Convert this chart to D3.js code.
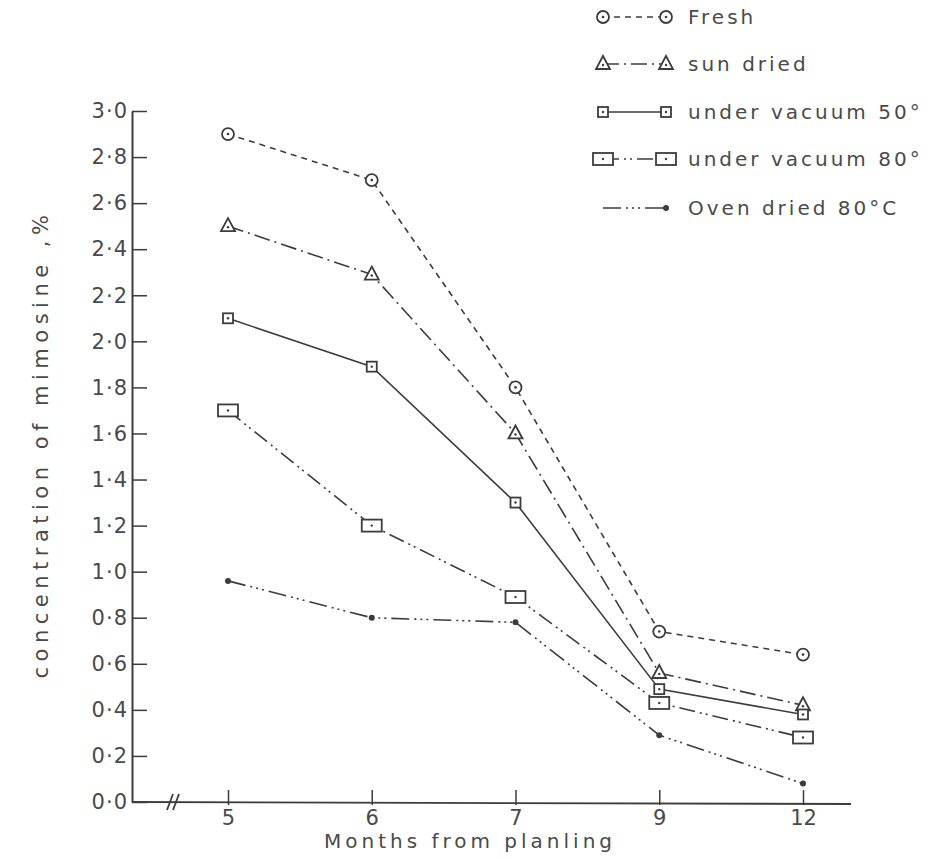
<!DOCTYPE html>
<html>
<head>
<meta charset="utf-8">
<script src="https://cdn.jsdelivr.net/npm/d3@7"></script>
<style>
  body { margin: 0; background: #fff; }
  text { font-family: "DejaVu Sans", sans-serif; fill: #4a4a4a; }
</style>
</head>
<body>
<div id="chart"></div>
<script>
// Months from planting (categories, equally spaced on the axis)
const months = ["5", "6", "7", "9", "12"];

// Mimosine concentration, %
const fresh = [2.9, 2.7, 1.8, 0.74, 0.64];
const sunDried = [2.5, 2.29, 1.6, 0.56, 0.42];
const vacuum50 = [2.1, 1.89, 1.3, 0.49, 0.38];
const vacuum80 = [1.7, 1.2, 0.89, 0.43, 0.28];
const ovenDried = [0.96, 0.8, 0.78, 0.29, 0.08];

const yTicks = [0, 0.2, 0.4, 0.6, 0.8, 1.0, 1.2, 1.4, 1.6, 1.8, 2.0, 2.2, 2.4, 2.6, 2.8, 3.0];

const seriesNames = ["Fresh", "sun dried", "under vacuum 50°", "under vacuum 80°", "Oven dried 80°C"];
const seriesValues = [fresh, sunDried, vacuum50, vacuum80, ovenDried];
const seriesDash = ["6,5", "16,5,2,5", null, "16,5,2,4,2,5", "18,5,2,4,2,4,2,5"];
const seriesMarker = ["circle", "triangle", "square", "rect", "dot"];

const ink = "#3c3c3c";

const svg = d3.select("#chart")
    .append("svg")
    .attr("width", 938)
    .attr("height", 861);

const x = d3.scalePoint().domain(months).range([228, 803]);
const y = d3.scaleLinear().domain([0, 3]).range([802, 111]);
const axisX = 132;

// draw a marker shape at (cx, cy)
function drawMarker(g, type, cx, cy) {
    if (type === "circle") {
        g.append("circle").attr("cx", cx).attr("cy", cy).attr("r", 6)
            .attr("fill", "#fff").attr("stroke", ink).attr("stroke-width", 1.8);
        g.append("circle").attr("cx", cx).attr("cy", cy).attr("r", 1.3).attr("fill", ink);
    } else if (type === "triangle") {
        g.append("path")
            .attr("d", `M${cx},${cy - 8} L${cx + 7},${cy + 5} L${cx - 7},${cy + 5} Z`)
            .attr("fill", "#fff").attr("stroke", ink).attr("stroke-width", 1.8);
        g.append("circle").attr("cx", cx).attr("cy", cy + 1).attr("r", 1.2).attr("fill", ink);
    } else if (type === "square") {
        g.append("rect").attr("x", cx - 5).attr("y", cy - 5).attr("width", 10).attr("height", 10)
            .attr("fill", "#fff").attr("stroke", ink).attr("stroke-width", 1.8);
        g.append("circle").attr("cx", cx).attr("cy", cy).attr("r", 1.2).attr("fill", ink);
    } else if (type === "rect") {
        g.append("rect").attr("x", cx - 10).attr("y", cy - 6).attr("width", 20).attr("height", 12)
            .attr("fill", "#fff").attr("stroke", ink).attr("stroke-width", 1.8);
        g.append("circle").attr("cx", cx).attr("cy", cy).attr("r", 1.2).attr("fill", ink);
    } else {
        g.append("circle").attr("cx", cx).attr("cy", cy).attr("r", 3).attr("fill", ink);
    }
}

// Y axis (ticks point inward, labels on the left)
const yAxis = d3.axisLeft(y)
    .tickValues(yTicks)
    .tickSizeInner(-15)
    .tickSizeOuter(0)
    .tickPadding(4)
    .tickFormat(d => d3.format(".1f")(d).replace(".", "·"));

const gy = svg.append("g")
    .attr("transform", `translate(${axisX},0)`)
    .call(yAxis);
gy.select(".domain").attr("stroke", ink).attr("stroke-width", 2);
gy.selectAll(".tick line").attr("stroke", ink).attr("stroke-width", 1.5);
gy.selectAll(".tick text")
    .style("font-size", "21px")
    .style("letter-spacing", "1px")
    .attr("fill", "#4a4a4a");

// X axis
const xAxis = d3.axisBottom(x)
    .tickSizeInner(-12)
    .tickSizeOuter(0)
    .tickPadding(8);

const gx = svg.append("g")
    .attr("transform", `translate(0,${y(0)})`)
    .call(xAxis);
gx.select(".domain").remove();
gx.selectAll(".tick line").attr("y1", 3).attr("y2", -12).attr("stroke", ink).attr("stroke-width", 1.5);
gx.selectAll(".tick text")
    .style("font-size", "21px")
    .attr("fill", "#4a4a4a");

// x axis baseline with the break mark
svg.append("line")
    .attr("x1", axisX).attr("x2", 851)
    .attr("y1", y(0)).attr("y2", y(0) + 2)
    .attr("stroke", ink).attr("stroke-width", 1.8);
[-3, 3].forEach(off => {
    svg.append("line")
        .attr("x1", 173 + off - 3).attr("y1", y(0) + 8)
        .attr("x2", 173 + off + 3).attr("y2", y(0) - 8)
        .attr("stroke", ink).attr("stroke-width", 1.8);
});

// axis titles
svg.append("text")
    .attr("x", 470).attr("y", 848)
    .attr("text-anchor", "middle")
    .style("font-size", "20px")
    .style("letter-spacing", "4px")
    .text("Months from  planling");

svg.append("text")
    .attr("transform", "translate(48,444) rotate(-90)")
    .attr("text-anchor", "middle")
    .style("font-size", "21px")
    .style("letter-spacing", "5.5px")
    .text("concentration of mimosine ,%");

// series lines and markers
const line = d3.line()
    .x((d, i) => x(months[i]))
    .y(d => y(d));

seriesValues.forEach((vals, s) => {
    svg.append("path")
        .datum(vals)
        .attr("d", line)
        .attr("fill", "none")
        .attr("stroke", ink)
        .attr("stroke-width", 1.6)
        .attr("stroke-dasharray", seriesDash[s]);
});

seriesValues.forEach((vals, s) => {
    const g = svg.append("g");
    vals.forEach((v, i) => drawMarker(g, seriesMarker[s], x(months[i]), y(v)));
});

// legend
const legendY = [17, 64, 112, 159, 208];
seriesNames.forEach((name, s) => {
    const g = svg.append("g");
    const ly = legendY[s];
    g.append("line")
        .attr("x1", 603).attr("x2", 666)
        .attr("y1", ly).attr("y2", ly)
        .attr("stroke", ink).attr("stroke-width", 1.6)
        .attr("stroke-dasharray", seriesDash[s]);
    if (seriesMarker[s] !== "dot") drawMarker(g, seriesMarker[s], 603, ly);
    drawMarker(g, seriesMarker[s], 666, ly);
    g.append("text")
        .attr("x", 688).attr("y", ly)
        .attr("dy", "0.35em")
        .style("font-size", "20px")
        .style("letter-spacing", "3px")
        .text(name);
});
</script>
</body>
</html>
